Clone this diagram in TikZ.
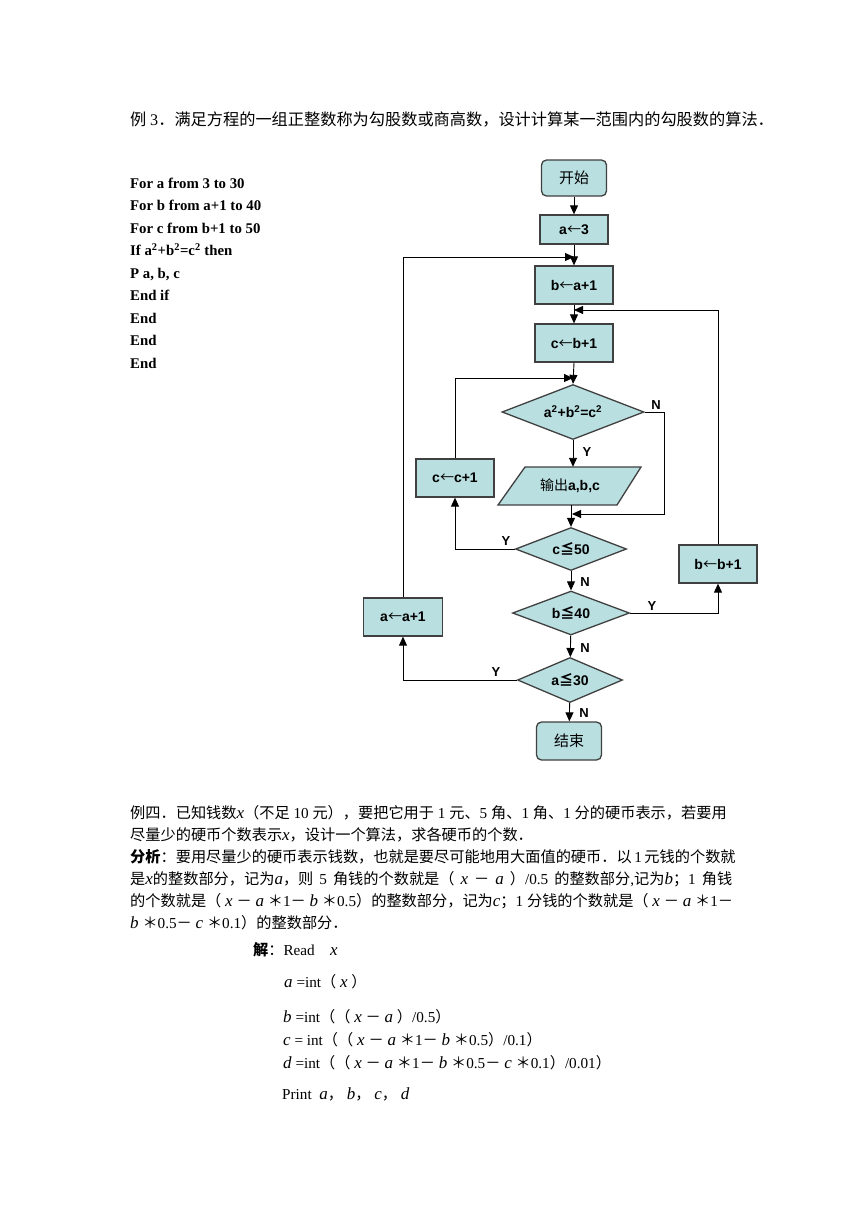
\documentclass[tikz,border=0pt]{standalone}
\usepackage{fontspec}
\setmainfont{Liberation Serif}
\newfontfamily\zhfont{Noto Sans CJK SC}
\newfontfamily\fcsans{Liberation Sans}
\newcommand\zh[1]{{\zhfont #1}}
\newcommand\la{{\zhfont\mdseries ←}}
\newcommand\gsp{\hspace{3.8pt}}
\newcommand\wsp{\hspace{6pt}}
\usetikzlibrary{arrows.meta,shapes.geometric,calc}
\definecolor{boxfill}{HTML}{B9DFE1}
\definecolor{boxline}{HTML}{404040}
\tikzset{
 proc/.style={draw=boxline, fill=boxfill, line width=1.3pt, minimum width=78pt, minimum height=38pt, inner sep=0pt, font=\fcsans\bfseries\fontsize{14}{16}\selectfont},
 term/.style={proc, rounded corners=5pt, minimum width=65pt, minimum height=36pt, font=\zhfont\fontsize{15}{17}\selectfont},
 dec/.style={proc, diamond, aspect=2.6},
 arr/.style={-{Triangle[length=9pt,width=8pt]}, line width=0.9pt, black},
 lbl/.style={font=\fcsans\bfseries\fontsize{13}{15}\selectfont, inner sep=0pt},
 txt/.style={anchor=base west, inner sep=0pt, font=\fontsize{15.2}{18}\selectfont},
 code/.style={anchor=base west, inner sep=0pt, font=\bfseries\fontsize{14.8}{17}\selectfont},
}
\newcommand\vi[1]{{\fontsize{17}{18}\selectfont\itshape #1}}
\begin{document}
\begin{tikzpicture}[x=1pt,y=-1pt]
\useasboundingbox (0,0) rectangle (860,1216);
\fill[white] (0,0) rectangle (860,1216);

% heading
\node[txt, font=\fontsize{16.2}{19}\selectfont] (h1) at (130,125.5) {\zh{例}\gsp 3\zh{．满足方程的一组正整数称为勾股数或商高数，设计计算某一范围内的勾股数的算法．}};

% code block
\node[code] (l1) at (130,188) {For a from 3 to 30};
\node[code] (l2) at (130,210.5) {For b from a+1 to 40};
\node[code] (l3) at (130,233) {For c from b+1 to 50};
\node[code] (l4) at (130,255.5) {If a\textsuperscript{2}+b\textsuperscript{2}=c\textsuperscript{2} then};
\node[code] (l5) at (130,278) {P a, b, c};
\node[code] (l6) at (130,300.5) {End if};
\node[code] (l7) at (130,323) {End};
\node[code] (l8) at (130,345.5) {End};
\node[code] (l9) at (130,368) {End};

% flowchart nodes
\node[term] (start) at (574,178) {开始};
\node[proc, minimum width=68pt, minimum height=29pt] (a3) at (574,229.5) {a\la3};
\node[proc] (b) at (574,285) {b\la a+1};
\node[proc] (c) at (574,343) {c\la b+1};
\node[dec, minimum width=142pt, minimum height=55pt] (eq) at (573,412) {a\textsuperscript{2}+b\textsuperscript{2}=c\textsuperscript{2}};
\path[draw=boxline, fill=boxfill, line width=1.3pt] (525,467) -- (641,467) -- (617,505) -- (498,505) -- cycle;
\node[inner sep=0pt, minimum height=38pt, font=\fcsans\bfseries\fontsize{14}{16}\selectfont] (out) at (570,486) {{\zhfont\mdseries 输出}a,b,c};
\node[proc] (cc) at (455,478) {c\la c+1};
\node[dec, minimum width=111pt, minimum height=43pt] (c50) at (571,549) {c{\zhfont ≦}50};
\node[proc] (bb) at (718,564) {b\la b+1};
\node[dec, minimum width=117pt, minimum height=44pt] (b40) at (571,613) {b{\zhfont ≦}40};
\node[proc, minimum width=79pt] (aa) at (403,617) {a\la a+1};
\node[dec, minimum width=105pt, minimum height=45pt] (a30) at (570,680) {a{\zhfont ≦}30};
\node[term, minimum height=38pt] (end) at (569,741) {结束};

\coordinate (jb) at (574,257);
\coordinate (jc) at (574,310);
\coordinate (je) at (573,378);
\coordinate (nr) at (664,514);
\coordinate (jn) at (572,514);

% connectors
\draw[arr] (start) -- (a3);
\draw[arr] (a3) -- (b);
\draw[arr] (aa.north) |- (jb);
\draw[arr] (b) -- (c);
\draw[arr] (bb.north) |- (jc);
\draw[arr] (c.south) -- (eq.north);
\draw[arr] (cc.north) |- (je);
\draw[arr] (eq.south) -- (eq.south |- out.north);
\draw[arr] (eq.east) -| (nr) -- (jn);
\draw[arr] (out.south -| c50.north) -- (c50.north);
\draw[arr] (c50.west) -| (cc.south);
\draw[arr] (c50) -- (b40);
\draw[arr] (b40.east) -| (bb.south);
\draw[arr] (b40) -- (a30);
\draw[arr] (a30.west) -| (aa.south);
\draw[arr] (a30) -- (end);

% labels
\node[lbl] (n1) at (656,405) {N};
\node[lbl] (y1) at (587,452) {Y};
\node[lbl] (y2) at (506,541) {Y};
\node[lbl] (n2) at (585,582) {N};
\node[lbl] (y3) at (652,606) {Y};
\node[lbl] (n3) at (585,648) {N};
\node[lbl] (y4) at (496,672) {Y};
\node[lbl] (n4) at (584,713) {N};

% paragraph
\node[txt] (p1) at (130,818.5) {\zh{例四．已知钱数}\vi{x}\zh{（不足}\gsp 10\gsp\zh{元），要把它用于}\gsp 1\gsp\zh{元、}5\gsp\zh{角、}1\gsp\zh{角、}1\gsp\zh{分的硬币表示，若要用}};
\node[txt] (p2) at (130,840.5) {\zh{尽量少的硬币个数表示}\vi{x}\zh{，设计一个算法，求各硬币的个数．}};
\node[txt] (p3) at (130,862.5) {{\zhfont\bfseries 分析}\zh{：要用尽量少的硬币表示钱数，也就是要尽可能地用大面值的硬币．以}\,1\,\zh{元钱的个数就}};
\node[txt] (p4) at (130,884.5) {\zh{是}\vi{x}\zh{的整数部分，记为}\vi{a}\zh{，则}\wsp 5\wsp\zh{角钱的个数就是（}\wsp\vi{x}\wsp\zh{－}\wsp\vi{a}\wsp\zh{）}/0.5\wsp\zh{的整数部分},\zh{记为}\vi{b}\zh{；}1\wsp\zh{角钱}};
\node[txt] (p5) at (130,906.5) {\zh{的个数就是（}\gsp\vi{x}\gsp\zh{－}\gsp\vi{a}\gsp\zh{＊}1\zh{－}\gsp\vi{b}\gsp\zh{＊}0.5\zh{）的整数部分，记为}\vi{c}\zh{；}1\gsp\zh{分钱的个数就是（}\gsp\vi{x}\gsp\zh{－}\gsp\vi{a}\gsp\zh{＊}1\zh{－}};
\node[txt] (p6) at (130,928.5) {\vi{b}\gsp\zh{＊}0.5\zh{－}\gsp\vi{c}\gsp\zh{＊}0.1\zh{）的整数部分．}};

% solution
\node[txt] (s1) at (253,955.5) {{\zhfont\bfseries 解}\zh{：}Read\quad\vi{x}};
\node[txt] (s2) at (284,987.5) {\vi{a} =int\zh{（} \vi{x} \zh{）}};
\node[txt] (s3) at (283,1022.5) {\vi{b} =int\zh{（（} \vi{x} \zh{－} \vi{a} \zh{）}/0.5\zh{）}};
\node[txt] (s4) at (283,1045.5) {\vi{c} = int\zh{（（} \vi{x} \zh{－} \vi{a} \zh{＊}1\zh{－} \vi{b} \zh{＊}0.5\zh{）}/0.1\zh{）}};
\node[txt] (s5) at (283,1068.5) {\vi{d} =int\zh{（（} \vi{x} \zh{－} \vi{a} \zh{＊}1\zh{－} \vi{b} \zh{＊}0.5\zh{－} \vi{c} \zh{＊}0.1\zh{）}/0.01\zh{）}};
\node[txt] (s6) at (282,1099.5) {Print\enspace \vi{a}\zh{，} \vi{b}\zh{，} \vi{c}\zh{，} \vi{d}};
\end{tikzpicture}
\end{document}
